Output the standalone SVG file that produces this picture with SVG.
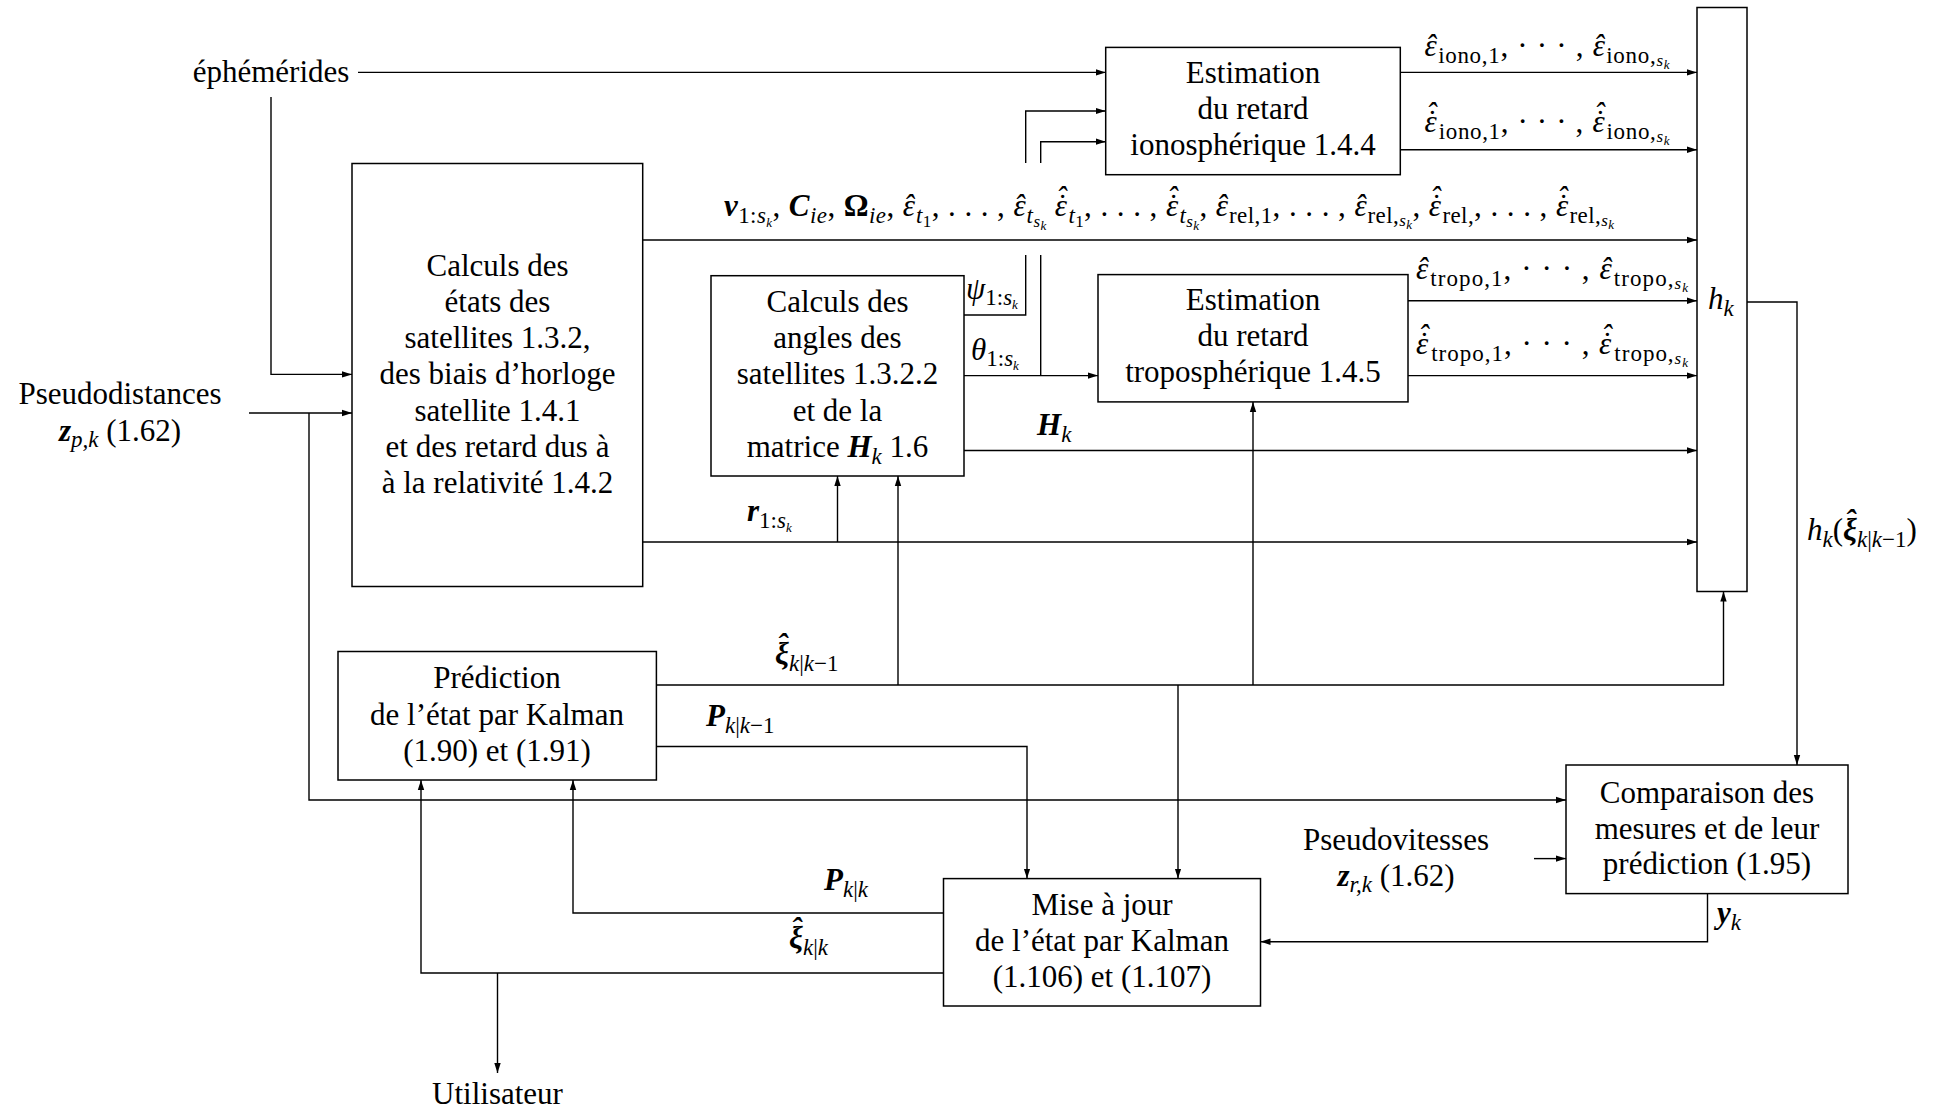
<svg xmlns="http://www.w3.org/2000/svg" width="1957" height="1111" viewBox="0 0 1957 1111">
<style>
.t{font-family:"Liberation Serif","DejaVu Serif",serif;font-size:31px;fill:#000}
.i{font-style:italic}
.bi{font-style:italic;font-weight:bold}
.bu{font-weight:bold}
.s{font-size:23px}
.ss{font-size:17px}
.sss{font-size:13px}
.box{fill:#fff;stroke:#000;stroke-width:1.5}
.ln{fill:none;stroke:#000;stroke-width:1.4}
.ar{fill:none;stroke:#000;stroke-width:1.4;marker-end:url(#a)}
</style>
<defs>
<marker id="a" viewBox="0 0 10 8" refX="10" refY="4" markerWidth="10" markerHeight="8" markerUnits="userSpaceOnUse" orient="auto"><path d="M0,0.8 L10,4 L0,7.2 z" fill="#000"/></marker>
</defs>
<rect width="1957" height="1111" fill="#fff"/>

<g id="connectors">
<path class="ar" d="M358,72.4 H1105.7"/>
<path class="ar" d="M271,97 V374.4 H352"/>
<path class="ar" d="M249,413 H352"/>
<path class="ar" d="M309,413 V800 H1566"/>
<path class="ar" d="M643,240 H1697"/>
<path class="ar" d="M643,542 H1697"/>
<path class="ar" d="M837.5,542 V476"/>
<path class="ln" d="M964,315 H1025.7 V255"/>
<path class="ar" d="M1025.7,163 V111 H1105.7"/>
<path class="ar" d="M964,375.6 H1098"/>
<path class="ln" d="M1040.7,375.6 V255"/>
<path class="ar" d="M1040.7,163 V141.7 H1105.7"/>
<path class="ar" d="M964,450.5 H1697"/>
<path class="ar" d="M1400.3,72.4 H1697"/>
<path class="ar" d="M1400.3,149.8 H1697"/>
<path class="ar" d="M1408,300.8 H1697"/>
<path class="ar" d="M1408,375.6 H1697"/>
<path class="ar" d="M1747,302 H1797 V765"/>
<path class="ar" d="M656.4,685 H1723.5 V591.5"/>
<path class="ar" d="M898,685 V476"/>
<path class="ar" d="M1253,685 V402"/>
<path class="ar" d="M1178,685 V878.6"/>
<path class="ar" d="M656.4,746.5 H1027 V878.6"/>
<path class="ar" d="M943.5,913 H573 V780"/>
<path class="ar" d="M943.5,973 H421 V780"/>
<path class="ar" d="M497.5,973 V1073"/>
<path class="ar" d="M1534,858.6 H1566"/>
<path class="ar" d="M1707.5,893.6 V941.7 H1260.5"/>

<text class="t" x="1547" y="56" text-anchor="middle" textLength="245" lengthAdjust="spacing"><tspan class="i">ε</tspan><tspan class="i" dx="-12">ˆ</tspan><tspan class="s" dx="1.7" dy="7">iono,1</tspan><tspan dy="-7">, · · · , </tspan><tspan class="i">ε</tspan><tspan class="i" dx="-12">ˆ</tspan><tspan class="s" dx="1.7" dy="7">iono,</tspan><tspan class="ss i" dy="3">s</tspan><tspan class="sss i" dy="3">k</tspan></text>
<text class="t" x="1547" y="132" text-anchor="middle" textLength="245" lengthAdjust="spacing"><tspan class="i">ε</tspan><tspan class="i" dx="-12">˙</tspan><tspan class="i" dx="-10.3" dy="-8">ˆ</tspan><tspan class="s" dx="1.7" dy="15">iono,1</tspan><tspan dy="-7">, · · · , </tspan><tspan class="i">ε</tspan><tspan class="i" dx="-12">˙</tspan><tspan class="i" dx="-10.3" dy="-8">ˆ</tspan><tspan class="s" dx="1.7" dy="15">iono,</tspan><tspan class="ss i" dy="3">s</tspan><tspan class="sss i" dy="3">k</tspan></text>
<text class="t" x="1169" y="216" text-anchor="middle" textLength="890" lengthAdjust="spacing"><tspan class="bi">v</tspan><tspan class="s" dy="7">1:</tspan><tspan class="s i">s</tspan><tspan class="sss i" dy="4">k</tspan><tspan dy="-11">, </tspan><tspan class="bi">C</tspan><tspan class="s i" dy="7">ie</tspan><tspan dy="-7">, </tspan><tspan class="bu">Ω</tspan><tspan class="s i" dy="7">ie</tspan><tspan dy="-7">, </tspan><tspan class="i">ε</tspan><tspan class="i" dx="-12">ˆ</tspan><tspan class="s i" dx="1.7" dy="7">t</tspan><tspan class="ss" dy="4">1</tspan><tspan dy="-11">, . . . , </tspan><tspan class="i">ε</tspan><tspan class="i" dx="-12">ˆ</tspan><tspan class="s i" dx="1.7" dy="7">t</tspan><tspan class="ss i" dy="4">s</tspan><tspan class="sss i" dy="3">k</tspan><tspan dy="-14"> </tspan><tspan class="i">ε</tspan><tspan class="i" dx="-12">˙</tspan><tspan class="i" dx="-10.3" dy="-8">ˆ</tspan><tspan class="s i" dx="1.7" dy="15">t</tspan><tspan class="ss" dy="4">1</tspan><tspan dy="-11">, . . . , </tspan><tspan class="i">ε</tspan><tspan class="i" dx="-12">˙</tspan><tspan class="i" dx="-10.3" dy="-8">ˆ</tspan><tspan class="s i" dx="1.7" dy="15">t</tspan><tspan class="ss i" dy="4">s</tspan><tspan class="sss i" dy="3">k</tspan><tspan dy="-14">, </tspan><tspan class="i">ε</tspan><tspan class="i" dx="-12">ˆ</tspan><tspan class="s" dx="1.7" dy="7">rel,1</tspan><tspan dy="-7">, . . . , </tspan><tspan class="i">ε</tspan><tspan class="i" dx="-12">ˆ</tspan><tspan class="s" dx="1.7" dy="7">rel,</tspan><tspan class="ss i" dy="3">s</tspan><tspan class="sss i" dy="3">k</tspan><tspan dy="-13">, </tspan><tspan class="i">ε</tspan><tspan class="i" dx="-12">˙</tspan><tspan class="i" dx="-10.3" dy="-8">ˆ</tspan><tspan class="s" dx="1.7" dy="15">rel,</tspan><tspan dy="-7">, . . . , </tspan><tspan class="i">ε</tspan><tspan class="i" dx="-12">˙</tspan><tspan class="i" dx="-10.3" dy="-8">ˆ</tspan><tspan class="s" dx="1.7" dy="15">rel,</tspan><tspan class="ss i" dy="3">s</tspan><tspan class="sss i" dy="3">k</tspan></text>
<text class="t" x="1552" y="279" text-anchor="middle" textLength="272" lengthAdjust="spacing"><tspan class="i">ε</tspan><tspan class="i" dx="-12">ˆ</tspan><tspan class="s" dx="1.7" dy="7">tropo,1</tspan><tspan dy="-7">, · · · , </tspan><tspan class="i">ε</tspan><tspan class="i" dx="-12">ˆ</tspan><tspan class="s" dx="1.7" dy="7">tropo,</tspan><tspan class="ss i" dy="3">s</tspan><tspan class="sss i" dy="3">k</tspan></text>
<text class="t" x="1552" y="354" text-anchor="middle" textLength="272" lengthAdjust="spacing"><tspan class="i">ε</tspan><tspan class="i" dx="-12">˙</tspan><tspan class="i" dx="-10.3" dy="-8">ˆ</tspan><tspan class="s" dx="1.7" dy="15">tropo,1</tspan><tspan dy="-7">, · · · , </tspan><tspan class="i">ε</tspan><tspan class="i" dx="-12">˙</tspan><tspan class="i" dx="-10.3" dy="-8">ˆ</tspan><tspan class="s" dx="1.7" dy="15">tropo,</tspan><tspan class="ss i" dy="3">s</tspan><tspan class="sss i" dy="3">k</tspan></text>
<text class="t" x="966" y="299"><tspan class="i">ψ</tspan><tspan class="s" dy="6">1:</tspan><tspan class="s i">s</tspan><tspan class="sss i" dy="4">k</tspan></text>
<text class="t" x="971" y="360"><tspan class="i">θ</tspan><tspan class="s" dy="6">1:</tspan><tspan class="s i">s</tspan><tspan class="sss i" dy="4">k</tspan></text>
<text class="t" x="1037" y="435"><tspan class="bi">H</tspan><tspan class="s i" dy="7">k</tspan></text>
<text class="t" x="747" y="521"><tspan class="bi">r</tspan><tspan class="s" dy="7">1:</tspan><tspan class="s i">s</tspan><tspan class="sss i" dy="4">k</tspan></text>
<text class="t" x="1807" y="540"><tspan class="i">h</tspan><tspan class="s i" dy="7">k</tspan><tspan dy="-7">(</tspan><tspan class="bi">ξ</tspan><tspan class="bi" dx="-12" dy="-9">ˆ</tspan><tspan class="s i" dx="1.7" dy="16">k</tspan><tspan class="s">|</tspan><tspan class="s i">k</tspan><tspan class="s">−1</tspan><tspan dy="-7">)</tspan></text>
<text class="t" x="775" y="664"><tspan class="bi">ξ</tspan><tspan class="bi" dx="-12" dy="-9">ˆ</tspan><tspan class="s i" dx="1.7" dy="16">k</tspan><tspan class="s">|</tspan><tspan class="s i">k</tspan><tspan class="s">−1</tspan></text>
<text class="t" x="706" y="726"><tspan class="bi">P</tspan><tspan class="s i" dy="7">k</tspan><tspan class="s">|</tspan><tspan class="s i">k</tspan><tspan class="s">−1</tspan></text>
<text class="t" x="824" y="890"><tspan class="bi">P</tspan><tspan class="s i" dy="7">k</tspan><tspan class="s">|</tspan><tspan class="s i">k</tspan></text>
<text class="t" x="789" y="948"><tspan class="bi">ξ</tspan><tspan class="bi" dx="-12" dy="-9">ˆ</tspan><tspan class="s i" dx="1.7" dy="16">k</tspan><tspan class="s">|</tspan><tspan class="s i">k</tspan></text>
<text class="t" x="1717" y="923"><tspan class="bi">y</tspan><tspan class="s i" dy="7">k</tspan></text>
</g>

<g id="ephemerides"><text class="t" x="271" y="82" text-anchor="middle">éphémérides</text></g>

<g id="pseudodistances"><text class="t" text-anchor="middle"><tspan x="120" y="404">Pseudodistances</tspan><tspan x="120" y="441"><tspan class="bi">z</tspan><tspan class="s i" dy="6">p,k</tspan><tspan dy="-6"> (1.62)</tspan></tspan></text></g>

<g id="pseudovitesses"><text class="t" text-anchor="middle"><tspan x="1396" y="850">Pseudovitesses</tspan><tspan x="1396" y="886"><tspan class="bi">z</tspan><tspan class="s i" dy="6">r,k</tspan><tspan dy="-6"> (1.62)</tspan></tspan></text></g>

<g id="utilisateur"><text class="t" x="497.5" y="1104" text-anchor="middle">Utilisateur</text></g>

<g id="calc-etats">
<rect class="box" x="352" y="163.5" width="290.7" height="423"/>
<text class="t" text-anchor="middle"><tspan x="497.5" y="276">Calculs des</tspan><tspan x="497.5" y="312">états des</tspan><tspan x="497.5" y="348">satellites 1.3.2,</tspan><tspan x="497.5" y="384">des biais d’horloge</tspan><tspan x="497.5" y="421">satellite 1.4.1</tspan><tspan x="497.5" y="457">et des retard dus à</tspan><tspan x="497.5" y="493">à la relativité 1.4.2</tspan></text>
</g>

<g id="calc-angles">
<rect class="box" x="711" y="275.7" width="253" height="200.3"/>
<text class="t" text-anchor="middle"><tspan x="837.5" y="312">Calculs des</tspan><tspan x="837.5" y="348">angles des</tspan><tspan x="837.5" y="384">satellites 1.3.2.2</tspan><tspan x="837.5" y="421">et de la</tspan><tspan x="837.5" y="457">matrice <tspan class="bi">H</tspan><tspan class="s i" dy="7">k</tspan><tspan dy="-7"> 1.6</tspan></tspan></text>
</g>

<g id="iono">
<rect class="box" x="1105.7" y="47.4" width="294.6" height="127.3"/>
<text class="t" text-anchor="middle"><tspan x="1253" y="83">Estimation</tspan><tspan x="1253" y="119">du retard</tspan><tspan x="1253" y="155">ionosphérique 1.4.4</tspan></text>
</g>

<g id="tropo">
<rect class="box" x="1098" y="274.6" width="310" height="127.3"/>
<text class="t" text-anchor="middle"><tspan x="1253" y="310">Estimation</tspan><tspan x="1253" y="346">du retard</tspan><tspan x="1253" y="382">troposphérique 1.4.5</tspan></text>
</g>

<g id="hk">
<rect class="box" x="1697" y="7.5" width="50" height="584"/>
<text class="t" x="1708" y="309"><tspan class="i">h</tspan><tspan class="s i" dy="7">k</tspan></text>
</g>

<g id="prediction">
<rect class="box" x="338" y="651.5" width="318.4" height="128.5"/>
<text class="t" text-anchor="middle"><tspan x="497" y="688">Prédiction</tspan><tspan x="497" y="725">de l’état par Kalman</tspan><tspan x="497" y="761">(1.90) et (1.91)</tspan></text>
</g>

<g id="mise-a-jour">
<rect class="box" x="943.5" y="878.6" width="317" height="127.4"/>
<text class="t" text-anchor="middle"><tspan x="1102" y="915">Mise à jour</tspan><tspan x="1102" y="951">de l’état par Kalman</tspan><tspan x="1102" y="987">(1.106) et (1.107)</tspan></text>
</g>

<g id="comparaison">
<rect class="box" x="1566" y="765" width="282" height="128.6"/>
<text class="t" text-anchor="middle"><tspan x="1707" y="803">Comparaison des</tspan><tspan x="1707" y="839">mesures et de leur</tspan><tspan x="1707" y="874">prédiction (1.95)</tspan></text>
</g>
</svg>
